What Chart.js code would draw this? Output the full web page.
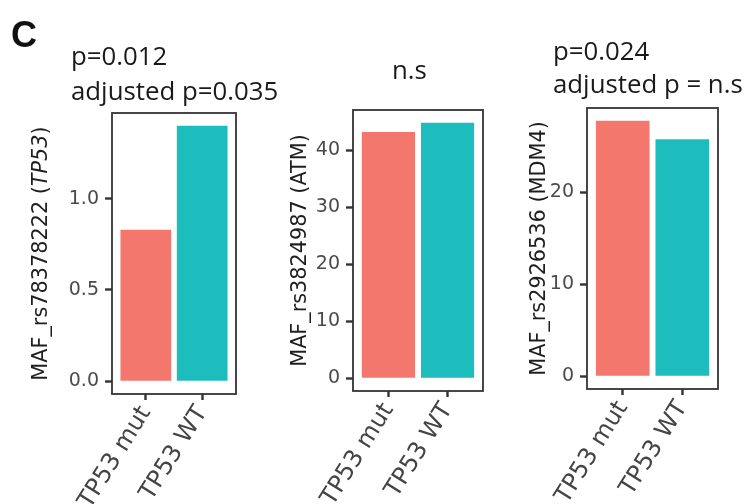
<!DOCTYPE html>
<html>
<head>
<meta charset="utf-8">
<script src="https://cdn.jsdelivr.net/npm/chart.js@4.4.1/dist/chart.umd.min.js"></script>
<style>
  html, body { margin: 0; padding: 0; background: #ffffff; }
  #wrap { position: relative; width: 745px; height: 504px; overflow: hidden; }
  #wrap canvas { position: absolute; left: 0; top: 0; }
</style>
</head>
<body>
<div id="wrap">
  <canvas id="c1" width="745" height="504"></canvas>
  <canvas id="c2" width="745" height="504"></canvas>
  <canvas id="c3" width="745" height="504"></canvas>
</div>
<script>
// ---------------- data ----------------
const categories = ['TP53 mut', 'TP53 WT'];
const xPositions = [1, 2];
const tp53Values = [0.83, 1.40];
const atmValues = [43.2, 44.8];
const mdm4Values = [27.8, 25.8];
const tp53Ticks = [0, 0.5, 1.0];
const atmTicks = [0, 10, 20, 30, 40];
const mdm4Ticks = [0, 10, 20];
const tp53Title = ['p=0.012', 'adjusted p=0.035'];
const atmTitle = ['n.s'];
const mdm4Title = ['p=0.024', 'adjusted p = n.s'];
const tp53AxisTitle = [['MAF_rs78378222 (', false], ['TP53', true], [')', false]];
const atmAxisTitle = [['MAF_rs3824987 (ATM)', false]];
const mdm4AxisTitle = [['MAF_rs2926536 (MDM4)', false]];
const panelLetter = 'C';

// ---------------- styles ----------------
const barColors = ['rgb(243,119,109)', 'rgb(29,189,190)'];
const AXIS_FONT = '"DejaVu Sans", "Liberation Sans", sans-serif';
const TITLE_FONT = '"Open Sans", "Liberation Sans", sans-serif';
const W = 745, H = 504;
const YW = 70;

const boxPlugin = {
  id: 'panelBox',
  afterDatasetsDraw(chart) {
    const a = chart.chartArea, ctx = chart.ctx;
    ctx.save();
    ctx.strokeStyle = '#333333';
    ctx.lineWidth = 1.8;
    ctx.strokeRect(a.left, a.top, a.right - a.left, a.bottom - a.top);
    ctx.restore();
  }
};

const textPlugin = {
  id: 'panelText',
  afterDraw(chart, args, opts) {
    const a = chart.chartArea, ctx = chart.ctx;
    ctx.save();
    const size = 20.8;
    const segs = opts.axisTitle;
    let total = 0;
    const widths = segs.map(([t, it]) => {
      ctx.font = (it ? 'italic ' : '') + size + 'px ' + AXIS_FONT;
      const w = ctx.measureText(t).width; total += w; return w;
    });
    ctx.translate(a.left - opts.axisTitleOffset, (a.top + a.bottom) / 2);
    ctx.rotate(-Math.PI / 2);
    ctx.fillStyle = '#1e1e1e';
    ctx.textBaseline = 'alphabetic';
    ctx.textAlign = 'left';
    let x = -total / 2;
    segs.forEach(([t, it], i) => {
      ctx.font = (it ? 'italic ' : '') + size + 'px ' + AXIS_FONT;
      ctx.fillText(t, x, 0);
      x += widths[i];
    });
    ctx.restore();

    ctx.save();
    ctx.fillStyle = '#1a1a1a';
    ctx.font = '25.8px ' + TITLE_FONT;
    ctx.textBaseline = 'alphabetic';
    ctx.textAlign = 'left';
    opts.title.forEach((line, i) => {
      ctx.fillText(line, a.left + opts.titleDx, a.top - opts.titleBottom - (opts.title.length - 1 - i) * opts.lineGap);
    });
    if (opts.letter) {
      ctx.font = 'bold 36px "Liberation Sans", Arial, sans-serif';
      ctx.fillStyle = '#111111';
      ctx.fillText(opts.letter, 11, 47);
    }
    ctx.restore();
  }
};

function makePanel(id, values, ticks, decimals, box, text) {
  const lo = Math.min(0, ...values), hi = Math.max(...values);
  const pad = (hi - lo) * 0.05;
  const XH = H - box.b;
  return new Chart(document.getElementById(id), {
    type: 'bar',
    data: {
      datasets: [{
        data: values.map((v, i) => ({ x: xPositions[i], y: v })),
        backgroundColor: barColors,
        borderWidth: 0,
        barPercentage: 0.9,
        categoryPercentage: 1
      }]
    },
    options: {
      responsive: false,
      animation: false,
      devicePixelRatio: 1,
      layout: { padding: { left: box.l - YW, right: W - box.r, top: box.t, bottom: 0 } },
      plugins: {
        legend: { display: false },
        tooltip: { enabled: false },
        title: { display: false },
        panelText: text
      },
      scales: {
        x: {
          type: 'linear',
          offset: false,
          min: 0.4, max: 2.6,
          afterBuildTicks: (ax) => { ax.ticks = xPositions.map(v => ({ value: v })); },
          afterFit: (s) => { s.height = XH; },
          ticks: {
            callback: (v, i) => categories[i],
            autoSkip: false,
            minRotation: 58, maxRotation: 58,
            font: { family: AXIS_FONT, size: 24 },
            color: '#444444',
            padding: 1
          },
          grid: { offset: false, drawOnChartArea: false, drawTicks: true, tickLength: 6, tickColor: '#333333', tickWidth: 2.4 },
          border: { display: false }
        },
        y: {
          min: lo - pad, max: hi + pad,
          afterBuildTicks: (ax) => { ax.ticks = ticks.map(v => ({ value: v })); },
          afterFit: (s) => { s.width = YW; },
          ticks: {
            callback: (v) => Number(v).toFixed(decimals),
            font: { family: AXIS_FONT, size: 19 },
            color: '#4a4a4a',
            padding: 6
          },
          grid: { drawOnChartArea: false, drawTicks: true, tickLength: 7, tickColor: '#333333', tickWidth: 2.4 },
          border: { display: false }
        }
      }
    },
    plugins: [boxPlugin, textPlugin]
  });
}

makePanel('c1', tp53Values, tp53Ticks, 1, { l: 112, r: 236, t: 113, b: 394 },
  { axisTitle: tp53AxisTitle, axisTitleOffset: 65, title: tp53Title, titleDx: -41, titleBottom: 13, lineGap: 35, letter: panelLetter });
makePanel('c2', atmValues, atmTicks, 0, { l: 353, r: 483, t: 110, b: 391 },
  { axisTitle: atmAxisTitle, axisTitleOffset: 47, title: atmTitle, titleDx: 39, titleBottom: 31, lineGap: 35 });
makePanel('c3', mdm4Values, mdm4Ticks, 0, { l: 587, r: 718, t: 108, b: 389 },
  { axisTitle: mdm4AxisTitle, axisTitleOffset: 42, title: mdm4Title, titleDx: -34, titleBottom: 15, lineGap: 33 });
</script>
</body>
</html>
